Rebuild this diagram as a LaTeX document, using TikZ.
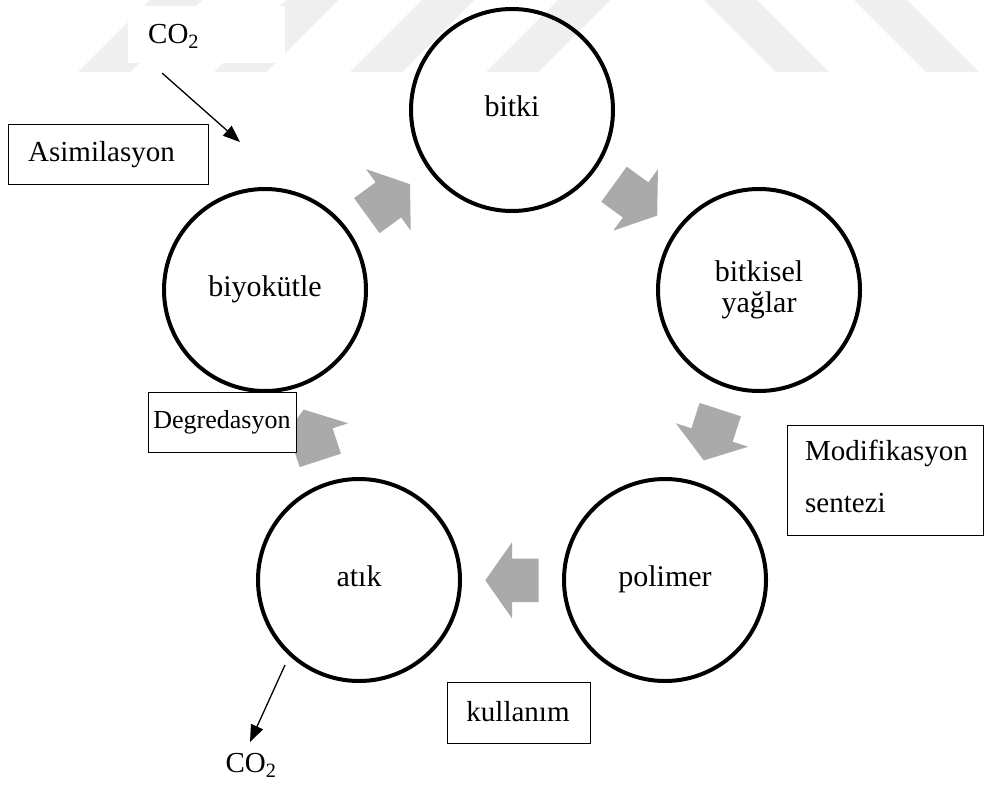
\documentclass[tikz,border=0pt]{standalone}
\usepackage{fontspec}
\setmainfont{Liberation Serif}
\usetikzlibrary{arrows.meta}
\definecolor{blockgray}{RGB}{170,170,170}
\definecolor{wmgray}{RGB}{239,239,239}
\tikzset{
  stage/.style={circle, draw=black, line width=4pt, minimum size=202pt, inner sep=0pt, align=center, font=\fontsize{30}{31}\selectfont},
  labelbox/.style={draw=black, line width=1.3pt, fill=white, anchor=north west, inner sep=0pt},
  plainlabel/.style={inner sep=0pt, font=\fontsize{29}{34}\selectfont},
  blockarrow/.style={fill=blockgray, draw=none},
  co2arrow/.style={line width=1.3pt, -{Triangle[length=17pt,width=13pt]}},
  watermark/.style={fill=wmgray, draw=none}
}
\newcommand{\blockarr}[3]{%
  \fill[blockarrow, shift={(#1,#2)}, rotate=#3]
    (26.7,0) -- (0,38) -- (0,21.7) -- (-26.7,21.7) -- (-26.7,-21.7) -- (0,-21.7) -- (0,-38) -- cycle;}
\begin{document}
\begin{tikzpicture}[x=1pt, y=-1pt]
\useasboundingbox (0,0) rectangle (1008,784);
\fill[white] (0,0) rectangle (1008,784);
% watermark stripes
\foreach \bx in {78,214,350,486}{
  \fill[watermark] (\bx,72) -- (\bx+52,72) -- (\bx+124,0) -- (\bx+72,0) -- cycle;}
\foreach \tx in {704,854}{
  \fill[watermark] (\tx,0) -- (\tx+53,0) -- (\tx+125,72) -- (\tx+72,72) -- cycle;}
% white patch behind top CO2
\node[fill=white, minimum width=157pt, minimum height=57pt, inner sep=0pt, anchor=north west] (co2patch) at (128,6) {};
\node[plainlabel, anchor=west] (co2top) at (148,36) {CO\textsubscript{2}};
% stages
\node[stage] (bitki) at (512,110) {bitki\strut};
\node[stage] (yag) at (759,290) {bitkisel\\yağlar};
\node[stage] (polimer) at (665,580) {polimer\strut};
\node[stage] (atik) at (359,580) {atık\strut};
\node[stage] (biyo) at (265,290) {biyokütle\strut};
% block arrows
\blockarr{388.4}{199.9}{36}
\blockarr{635.6}{199.9}{-36}
\blockarr{712}{435}{-108}
\blockarr{512}{580.3}{180}
\blockarr{312}{435}{108}
% label boxes
\node[labelbox, minimum width=200pt, minimum height=60pt] (asim) at (8,124) {};
\node[plainlabel, anchor=west] (asimtext) at (28,155) {Asimilasyon};
\node[labelbox, minimum width=148pt, minimum height=60pt] (degr) at (148,392) {};
\node[plainlabel, font=\fontsize{26}{30}\selectfont] (degrtext) at (222,422) {Degredasyon};
\node[labelbox, minimum width=196pt, minimum height=110pt] (modif) at (787,425) {};
\node[plainlabel, anchor=base west] (modift1) at (805,460) {Modifikasyon};
\node[plainlabel, anchor=base west] (modift2) at (805,512) {sentezi};
\node[labelbox, minimum width=143pt, minimum height=61pt] (kull) at (447,682) {};
\node[plainlabel] (kulltext) at (518,712) {kullanım};
% CO2 arrows
\coordinate (co2in) at (240,142);
\coordinate (co2start) at (162,73);
\draw[co2arrow] (co2start) -- (co2in);
\node[plainlabel] (co2bot) at (251,765) {CO\textsubscript{2}};
\coordinate (atikout) at (285,665);
\coordinate (co2end) at (250,742);
\draw[co2arrow] (atikout) -- (co2end);
\end{tikzpicture}
\end{document}
